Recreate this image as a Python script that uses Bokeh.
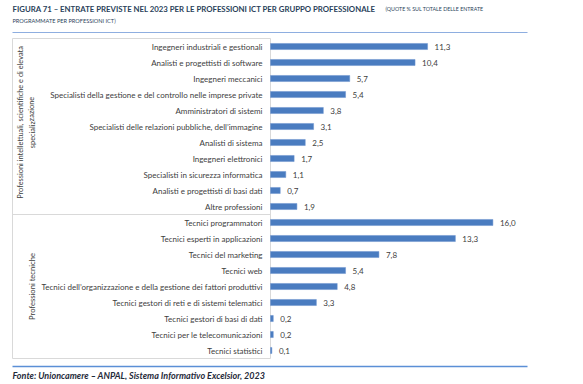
from bokeh.plotting import figure
from bokeh.models import Range1d, ColumnDataSource
from bokeh.core.properties import value
from bokeh.embed import file_html
from bokeh.resources import INLINE

# ---------------- data ----------------
group1_label = ["Professioni intellettuali, scientifiche e di elevata", "specializzazione"]
group2_label = ["Professioni tecniche"]

categories1 = [
    "Ingegneri industriali e gestionali",
    "Analisti e progettisti di software",
    "Ingegneri meccanici",
    "Specialisti della gestione e del controllo nelle imprese private",
    "Amministratori di sistemi",
    "Specialisti delle relazioni pubbliche, dell\u2019immagine",
    "Analisti di sistema",
    "Ingegneri elettronici",
    "Specialisti in sicurezza informatica",
    "Analisti e progettisti di basi dati",
    "Altre professioni",
]
values1 = [11.3, 10.4, 5.7, 5.4, 3.8, 3.1, 2.5, 1.7, 1.1, 0.7, 1.9]

categories2 = [
    "Tecnici programmatori",
    "Tecnici esperti in applicazioni",
    "Tecnici del marketing",
    "Tecnici web",
    "Tecnici dell\u2019organizzazione e della gestione dei fattori produttivi",
    "Tecnici gestori di reti e di sistemi telematici",
    "Tecnici gestori di basi di dati",
    "Tecnici per le telecomunicazioni",
    "Tecnici statistici",
]
values2 = [16.0, 13.3, 7.8, 5.4, 4.8, 3.3, 0.2, 0.2, 0.1]

title_bold = "FIGURA 71 \u2013 ENTRATE PREVISTE NEL 2023 PER LE PROFESSIONI ICT PER GRUPPO PROFESSIONALE"
title_norm1 = "(QUOTE % SUL TOTALE DELLE ENTRATE"
title_norm2 = "PROGRAMMATE PER PROFESSIONI ICT)"
footnote = "Fonte: Unioncamere \u2013 ANPAL, Sistema Informativo Excelsior, 2023"

# ---------------- layout helpers ----------------
W, H = 567, 380
PX = 13.9      # pixels per percentage point
ROW = 16.0     # pixels per row
X0 = 270       # px of value zero
Y0 = 46        # px of first row centre


def dx(px):
    return (px - X0) / PX


def dy(py):
    return (py - Y0) / ROW


p = figure(width=W, height=H,
           x_range=Range1d(-X0 / PX, (W - X0) / PX),
           y_range=Range1d((H - Y0) / ROW, -Y0 / ROW),
           x_axis_location=None, y_axis_location=None,
           min_border=0, min_border_left=0, min_border_right=0,
           min_border_top=0, min_border_bottom=0,
           output_backend="svg", toolbar_location=None)
p.grid.visible = False
p.outline_line_color = None
p.background_fill_color = "white"

cats = categories1 + categories2
vals = values1 + values2
rows = list(range(len(cats)))
src = ColumnDataSource(dict(
    y=rows, v=vals, cat=cats,
    lab=[f"{v:.1f}".replace(".", ",") for v in vals],
))

FONT = value("Lato")
TXT = "#404040"

# frame lines (category axis box)
n1 = len(categories1)
n = len(cats)
p.segment(x0=[dx(12), dx(12), dx(12), dx(12), 0],
          y0=[-0.5, n - 0.5, n1 - 0.5, -0.5, -0.5],
          x1=[0, 0, 0, dx(12), 0],
          y1=[-0.5, n - 0.5, n1 - 0.5, n - 0.5, n - 0.5],
          line_color="#d9d9d9", line_width=1)

# blue rules
p.segment(x0=[dx(12)], y0=[dy(32)], x1=[dx(527)], y1=[dy(32)],
          line_color="#8eaee0", line_width=1.2)
p.segment(x0=[dx(12)], y0=[dy(366)], x1=[dx(527)], y1=[dy(366)],
          line_color="#5b8fd6", line_width=1.5)

# bars
p.hbar(y="y", left=0, right="v", height=0.38, source=src,
       fill_color="#4a7cc0", line_color="#6b93cf", line_width=0.5)

# value labels
p.text(x="v", y="y", text="lab", source=src, x_offset=7,
       text_align="left", text_baseline="middle",
       text_font=FONT, text_font_size="8px", text_color=TXT)

# category labels
p.text(x=0, y="y", text="cat", source=src, x_offset=-8,
       text_align="right", text_baseline="middle",
       text_font=FONT, text_font_size="8px", text_color=TXT)

# group labels (rotated)
p.text(x=[dx(20), dx(31.5)], y=[dy(122), dy(122)], text=group1_label,
       angle=1.5708, text_align="center", text_baseline="middle",
       text_font=FONT, text_font_size="7.4px", text_color=TXT)
p.text(x=[dx(31.5)], y=[dy(286)], text=group2_label,
       angle=1.5708, text_align="center", text_baseline="middle",
       text_font=FONT, text_font_size="7.6px", text_color=TXT)

# title
TC = "#2a3f5a"
p.text(x=[dx(12)], y=[dy(8)], text=[title_bold], text_align="left",
       text_baseline="middle", text_font=FONT, text_font_size="7.8px",
       text_font_style="bold", text_color=TC)
p.text(x=[dx(385)], y=[dy(8)], text=[title_norm1], text_align="left",
       text_baseline="middle", text_font=FONT, text_font_size="5.3px",
       text_color=TC)
p.text(x=[dx(12)], y=[dy(20)], text=[title_norm2], text_align="left",
       text_baseline="middle", text_font=FONT, text_font_size="5.6px",
       text_color=TC)

# footnote
p.text(x=[dx(12)], y=[dy(375)], text=[footnote], text_align="left",
       text_baseline="middle", text_font=FONT, text_font_size="9px",
       text_font_style="bold italic", text_color="#1f2a3a")

open("out.html", "w").write(file_html(p, INLINE))
